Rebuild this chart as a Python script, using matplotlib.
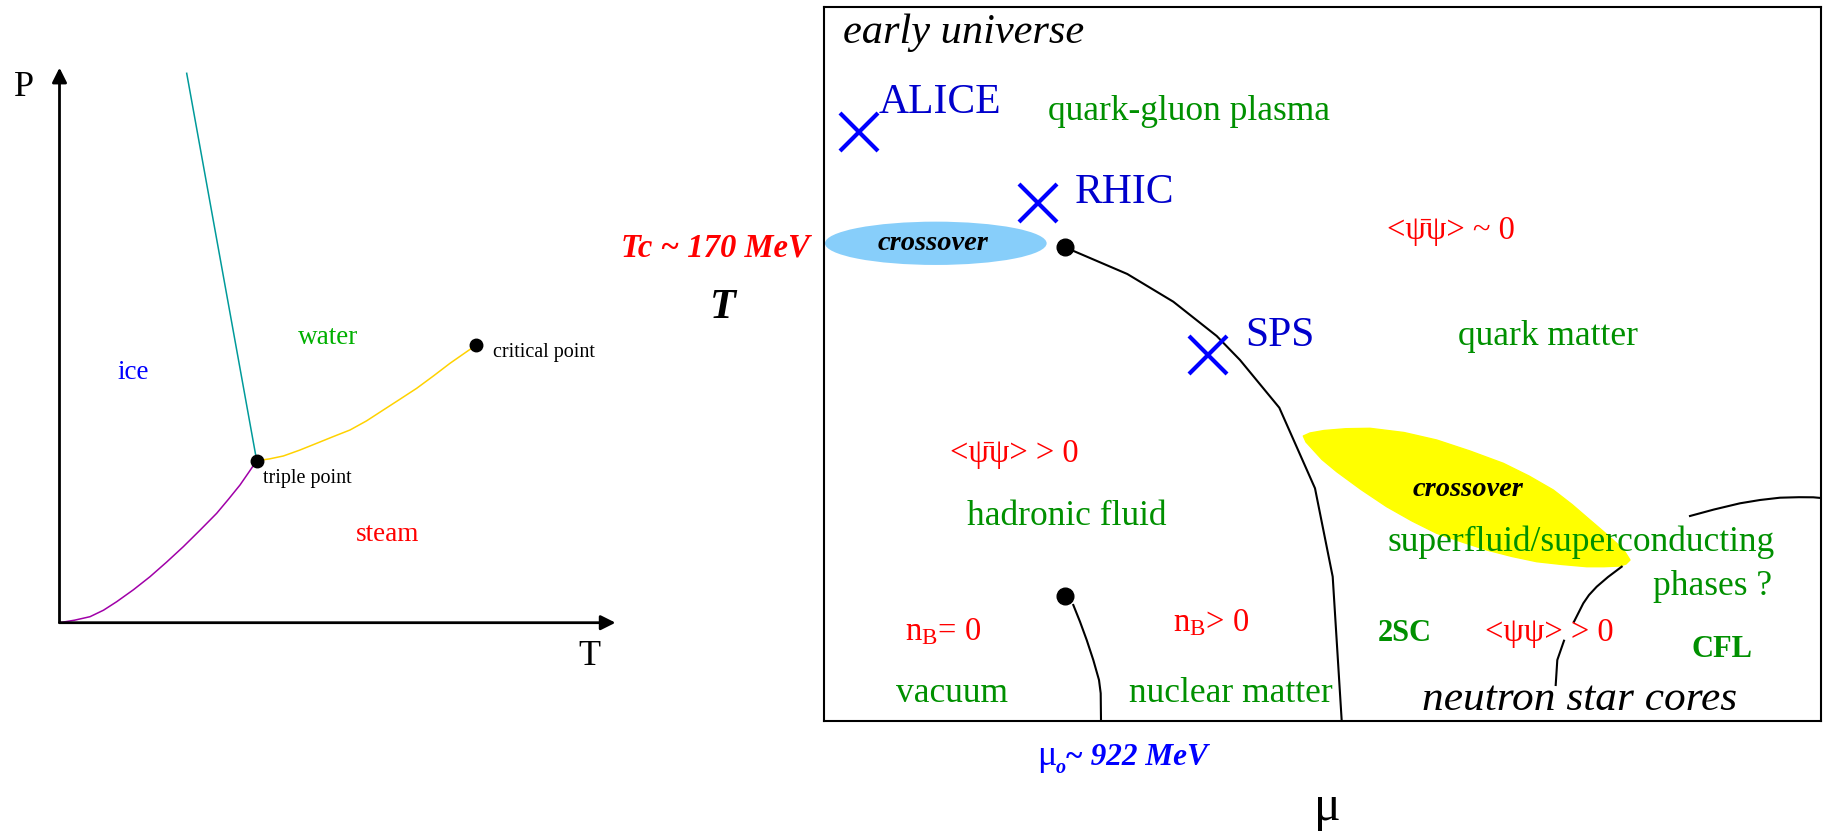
import matplotlib
matplotlib.use("Agg")
import matplotlib.pyplot as plt
from matplotlib.patches import Ellipse, Polygon

plt.rcParams['font.family'] = ['Liberation Serif', 'DejaVu Serif']
plt.rcParams['mathtext.fontset'] = 'custom'
plt.rcParams['mathtext.rm'] = 'Liberation Serif'
plt.rcParams['mathtext.it'] = 'Liberation Serif:italic'
plt.rcParams['mathtext.bf'] = 'Liberation Serif:bold'

# ---------------- left panel: water phase diagram (T, P) ----------------
melt_T = [127.2, 197.2]
melt_P = [549.4, 162.0]
subl_T = [0.0, 15.0, 30.5, 44.0, 57.2, 74.0, 90.5, 107.0, 123.8, 140.5, 157.2, 169.0, 180.5, 189.0, 197.2]
subl_P = [0.0, 2.5, 6.0, 12.5, 21.0, 33.0, 46.0, 60.5, 76.0, 92.5, 109.4, 123.5, 137.7, 150.0, 162.0]
boil_T = [197.2, 210.0, 223.8, 240.0, 257.2, 274.0, 290.5, 307.0, 323.8, 340.5, 357.2, 374.0, 390.5, 404.0, 416.8]
boil_P = [162.0, 163.8, 166.7, 172.5, 179.4, 186.2, 192.7, 201.8, 212.7, 223.5, 234.4, 246.8, 259.4, 268.8, 277.7]
points_T = [197.2, 416.8]
points_P = [162.0, 277.7]
axis_T_max = 556.0
axis_P_max = 555.0

left_labels = ["ice", "water", "steam", "triple point", "critical point"]
left_label_T = [58.2, 238.5, 296.2, 203.2, 433.8]
left_label_P = [243.4, 278.5, 82.0, 139.4, 266.0]
left_label_col = ["#0000ff", "#00b000", "#ff0000", "black", "black"]
left_label_size = [19.5, 19.5, 19.5, 14.5, 14.5]

# ---------------- right panel: QCD phase diagram (mu, T) ----------------
exp_names = ["ALICE", "RHIC", "SPS"]
exp_mu = [35.3, 214.3, 383.7]
exp_T = [589.3, 518.3, 366.0]
exp_lbl_mu = [55.0, 251.0, 421.0]
exp_lbl_T = [607.7, 518.3, 375.0]

chiral_mu = [241.0, 303.3, 349.3, 392.7, 416.0, 455.3, 491.0, 508.7, 517.7]
chiral_T = [473.7, 447.0, 419.3, 385.0, 361.0, 313.3, 232.7, 144.3, 0.3]
nuclear_mu = [249.3, 256.0, 262.7, 269.3, 275.0, 276.7, 277.0]
nuclear_T = [116.0, 99.3, 81.0, 61.0, 41.0, 27.7, 0.3]
cfl_up_mu = [797.7, 784.0, 772.7, 765.0, 759.3, 750.0]
cfl_up_T = [154.3, 144.0, 134.3, 126.0, 117.7, 99.3]
cfl_lo_mu = [740.0, 733.3, 731.7]
cfl_lo_T = [80.3, 61.0, 36.0]
top_mu = [866.0, 890.0, 916.0, 936.0, 956.0, 975.0, 989.3, 997.0]
top_T = [205.0, 211.5, 217.7, 221.0, 223.3, 223.8, 223.7, 223.0]
crit_mu = [241.0, 241.0]
crit_T = [473.7, 125.3]

blue_xover = (111.8, 477.7, 221.7, 43.3)  # centre mu, centre T, width, height
yellow_mu = [479.3, 486.0, 500.0, 522.0, 546.0, 580.0, 612.7, 646.0, 679.3, 705.0,
             729.3, 748.0, 766.0, 780.0, 792.7, 801.0, 806.0, 802.0,
             796.0, 780.0, 762.7, 738.0, 712.7, 688.0, 662.7, 638.0, 612.7,
             588.0, 562.7, 537.0, 512.7, 498.0, 489.3, 482.0]
yellow_T = [285.0, 288.0, 290.5, 292.3, 292.7, 288.5, 281.0, 270.0, 257.7, 245.0,
            231.0, 216.5, 201.0, 189.0, 177.7, 169.0, 161.0, 157.0,
            155.0, 154.3, 154.3, 156.5, 159.3, 164.5, 171.0, 179.0, 187.7,
            200.0, 214.3, 231.5, 249.3, 261.5, 271.0, 279.0]

fig = plt.figure(figsize=(18.23, 8.33), dpi=100)

# ---- left axes (units = pixels from origin)
axL = fig.add_axes([0, 0, 800 / 1823, 1])
axL.set_xlim(-59.5, 740.5)
axL.set_ylim(-210.3, 622.7)
axL.axis('off')
arrow = dict(arrowstyle='-|>', lw=2.0, color='black', mutation_scale=22,
             shrinkA=0, shrinkB=0)
axL.annotate('', xy=(0, axis_P_max), xytext=(0, 0), arrowprops=arrow)
axL.annotate('', xy=(axis_T_max, 0), xytext=(0, 0), arrowprops=arrow)
axL.plot(melt_T, melt_P, color='#009a9a', lw=1.1)
axL.plot(subl_T, subl_P, color='#a000a8', lw=1.1)
axL.plot(boil_T, boil_P, color='#ffd200', lw=1.1)
axL.plot(points_T, points_P, 'o', color='black', ms=9)
axL.text(-45.5, 527, "P", fontsize=26, va='baseline', ha='left')
axL.text(518.5, -42.3, "T", fontsize=26, va='baseline', ha='left')
for s, x, y, c, fs in zip(left_labels, left_label_T, left_label_P,
                          left_label_col, left_label_size):
    axL.text(x, y, s, color=c, fontsize=fs, va='baseline', ha='left')

# ---- right axes (units = pixels inside box)
axR = fig.add_axes([824 / 1823, (833 - 721) / 833, 997 / 1823, 714 / 833])
axR.set_xlim(0, 997)
axR.set_ylim(0, 714)
axR.set_xticks([])
axR.set_yticks([])
for sp in axR.spines.values():
    sp.set_linewidth(1.5)

cx, cy, w, h = blue_xover
axR.add_patch(Ellipse((cx, cy), w, h, facecolor='#87cefa', edgecolor='none'))
axR.add_patch(Polygon(list(zip(yellow_mu, yellow_T)), closed=True,
                      facecolor='#ffff00', edgecolor='#ffff00', lw=1.0,
                      joinstyle='round'))

lw_c = 1.5
axR.plot(chiral_mu, chiral_T, color='black', lw=lw_c)
axR.plot(nuclear_mu, nuclear_T, color='black', lw=lw_c)
axR.plot(cfl_up_mu, cfl_up_T, color='black', lw=lw_c)
axR.plot(cfl_lo_mu, cfl_lo_T, color='black', lw=lw_c)
axR.plot(top_mu, top_T, color='black', lw=lw_c)
axR.plot(crit_mu, crit_T, 'o', color='black', ms=12, ls='none')

axR.plot(exp_mu, exp_T, 'x', color='#0000ff', ms=27, mew=3.0, ls='none')
for s, x, y in zip(exp_names, exp_lbl_mu, exp_lbl_T):
    axR.text(x, y, s, color='#0000cc', fontsize=30, va='baseline', ha='left')

green = '#009000'
red_fs = 23.5
axR.text(18.7, 678.3, "early universe", fontsize=30.5, style='italic',
         va='baseline', ha='left')
axR.text(223.7, 601, "quark-gluon plasma", fontsize=25.5, color=green,
         va='baseline', ha='left')
axR.text(108.7, 478, "crossover", fontsize=20.5, weight='bold', style='italic',
         va='center', ha='center')
axR.text(644.3, 231, "crossover", fontsize=20.5, weight='bold', style='italic',
         va='center', ha='center')
axR.text(563, 482, "<\u03c8\u0304\u03c8> ~ 0", fontsize=red_fs, color='red',
         va='baseline', ha='left')
axR.text(633.5, 376, "quark matter", fontsize=25.5, color=green,
         va='baseline', ha='left')
axR.text(126, 259.3, "<\u03c8\u0304\u03c8> > 0", fontsize=red_fs, color='red',
         va='baseline', ha='left')
axR.text(142.7, 196, "hadronic fluid", fontsize=25.5, color=green,
         va='baseline', ha='left')
axR.text(81, 81, r"n$_{\mathrm{B}}$= 0", fontsize=23.5, color='red',
         va='baseline', ha='left')
axR.text(348.7, 89.3, r"n$_{\mathrm{B}}$> 0", fontsize=23.5, color='red',
         va='baseline', ha='left')
axR.text(72.4, 19.3, "vacuum", fontsize=25.5, color=green,
         va='baseline', ha='left')
axR.text(304.6, 19.3, "nuclear matter", fontsize=25.5, color=green,
         va='baseline', ha='left')
axR.text(563.4, 170, "superfluid/superconducting", fontsize=25.5, color=green,
         va='baseline', ha='left')
axR.text(948, 126, "phases ?", fontsize=25.5, color=green,
         va='baseline', ha='right')
axR.text(553.3, 80.3, "2SC", fontsize=22, color=green, weight='bold',
         va='baseline', ha='left')
axR.text(661, 80.3, "<\u03c8\u03c8> > 0", fontsize=red_fs, color='red',
         va='baseline', ha='left')
axR.text(867.7, 63.7, "CFL", fontsize=22, color=green, weight='bold',
         va='baseline', ha='left')
axR.text(597.7, 11, "neutron star cores", fontsize=31.2, style='italic',
         va='baseline', ha='left')

# labels outside the box
axR.text(-203.3, 464.3, "Tc ~ 170 MeV", fontsize=23.5, color='red',
         weight='bold', style='italic', va='baseline', ha='left')
axR.text(-100.7, 402.7, "T", fontsize=30.5, weight='bold', style='italic',
         va='baseline', ha='center')
axR.text(213.3, -44, "\u03bc", fontsize=26, color='#0000ff',
         va='baseline', ha='left')
axR.text(232, -52, "o", fontsize=14.5, color='#0000ff', weight='bold',
         style='italic', va='baseline', ha='left')
axR.text(241, -44, "~ 922 MeV", fontsize=22.5, color='#0000ff', weight='bold',
         style='italic', va='baseline', ha='left')
axR.text(489.7, -98.6, "\u03bc", fontsize=36, va='baseline', ha='left')

fig.savefig("out.png", dpi=100)
